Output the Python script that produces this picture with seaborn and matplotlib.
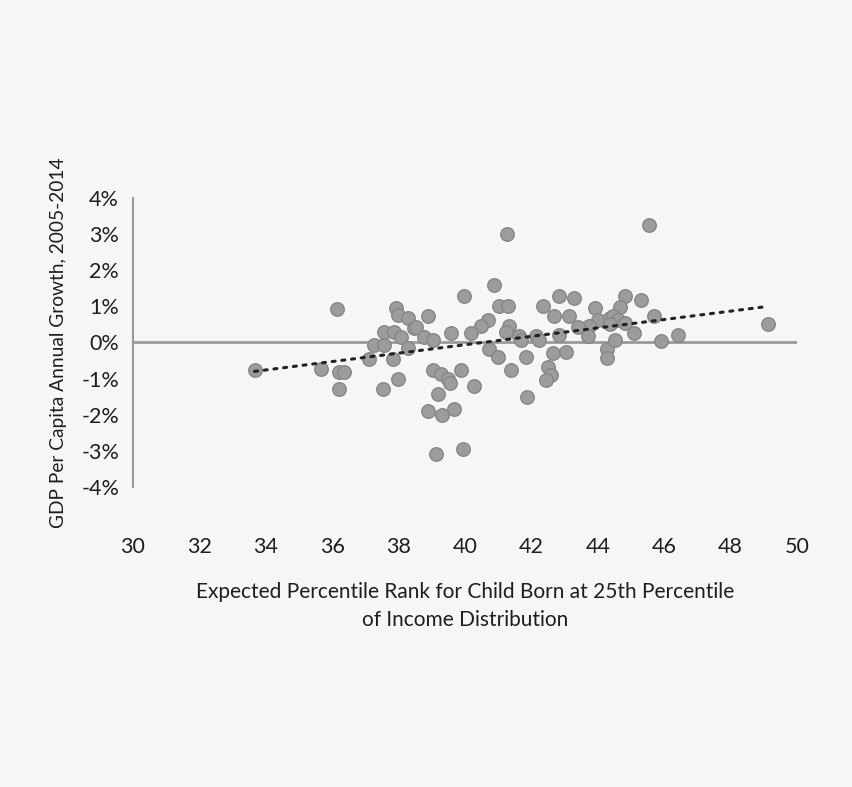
import matplotlib
matplotlib.use('Agg')
import matplotlib.pyplot as plt
import seaborn as sns
import pandas as pd

# Expected percentile rank (x) vs GDP per capita annual growth 2005-2014, % (y)
rank = [33.66, 36.13, 35.65, 36.19, 36.37, 36.19, 37.93, 37.99, 38.29, 38.47,
        37.57, 37.87, 38.08, 37.27, 37.57, 38.29, 37.12, 37.84, 37.99, 37.54,
        38.89, 38.53, 39.58, 38.77, 39.04, 39.97, 40.87, 41.02, 41.29, 41.26,
        40.69, 40.48, 40.18, 41.32, 41.23, 41.62, 42.13, 42.34, 42.82, 43.27,
        42.67, 43.12, 43.93, 44.02, 43.72, 43.39, 43.69, 42.82, 44.38, 40.72,
        40.99, 41.83, 41.38, 39.88, 39.04, 39.28, 39.49, 39.55, 40.27, 39.19,
        38.89, 39.31, 39.67, 39.13, 39.94, 41.86, 42.49, 42.58, 42.43, 42.64,
        43.03, 41.68, 42.22, 44.29, 44.29, 45.53, 44.83, 45.29, 44.68, 44.47,
        44.62, 44.83, 44.38, 45.68, 45.08, 46.43, 45.89, 44.53, 49.13]
growth = [-0.77, 0.94, -0.74, -0.83, -0.83, -1.29, 0.96, 0.77, 0.69, 0.41,
          0.28, 0.28, 0.14, -0.08, -0.08, -0.14, -0.47, -0.47, -1.02, -1.29,
          0.72, 0.44, 0.25, 0.14, 0.08, 1.29, 1.60, 1.02, 1.02, 3.00,
          0.61, 0.47, 0.25, 0.47, 0.28, 0.19, 0.19, 1.02, 1.29, 1.24,
          0.74, 0.72, 0.96, 0.61, 0.47, 0.44, 0.19, 0.22, 0.69, -0.19,
          -0.41, -0.39, -0.77, -0.77, -0.77, -0.88, -1.02, -1.13, -1.21, -1.43,
          -1.90, -2.01, -1.85, -3.09, -2.95, -1.52, -0.69, -0.91, -1.05, -0.28,
          -0.25, 0.08, 0.08, -0.19, -0.44, 3.25, 1.29, 1.18, 0.99, 0.74,
          0.61, 0.55, 0.50, 0.72, 0.25, 0.22, 0.03, 0.06, 0.50]

# Trend line end points
trend_x = [33.66, 49.13]
trend_y = [-0.80, 1.00]

x_ticks = [30, 32, 34, 36, 38, 40, 42, 44, 46, 48, 50]
y_ticks = [-4, -3, -2, -1, 0, 1, 2, 3, 4]

df = pd.DataFrame({'rank': rank, 'growth': growth})

sns.set_style('white')
plt.rcParams['font.family'] = ['Lato', 'DejaVu Sans']

fig = plt.figure(figsize=(8.52, 7.87), dpi=100, facecolor='#f6f6f6')
ax = fig.add_axes([133 / 852, 1 - 487 / 787, (797 - 133) / 852, (487 - 198) / 787])
ax.set_facecolor('#f6f6f6')

# zero line
ax.axhline(0, color='#9a9a9a', lw=2, zorder=1)

sns.scatterplot(data=df, x='rank', y='growth', ax=ax, s=95, color='#9c9c9c',
                edgecolor='#878787', linewidth=1, zorder=3, legend=False)

ax.plot(trend_x, trend_y, color='#222222', lw=2.2, linestyle=(0, (1, 2.2)),
        dash_capstyle='round', zorder=4)

ax.set_xlim(30, 50)
ax.set_ylim(-4, 4)
ax.set_xticks(x_ticks)
ax.set_yticks(y_ticks)
ax.set_yticklabels([f'{v}%' for v in y_ticks])

for s in ['top', 'right', 'bottom']:
    ax.spines[s].set_visible(False)
ax.spines['left'].set_color('#9a9a9a')
ax.spines['left'].set_linewidth(1.5)

ax.tick_params(axis='x', length=0, pad=36, labelsize=15.5, colors='#1e1e1e')
ax.tick_params(axis='y', length=0, pad=10, labelsize=15.5, colors='#1e1e1e')

ax.set_xlabel('Expected Percentile Rank for Child Born at 25th Percentile\nof Income Distribution',
              fontsize=15, color='#1e1e1e', labelpad=18, linespacing=1.5)
ax.set_ylabel('GDP Per Capita Annual Growth, 2005-2014', fontsize=13.8,
              color='#1e1e1e', labelpad=10)

fig.savefig('out.png', dpi=100, facecolor=fig.get_facecolor())
